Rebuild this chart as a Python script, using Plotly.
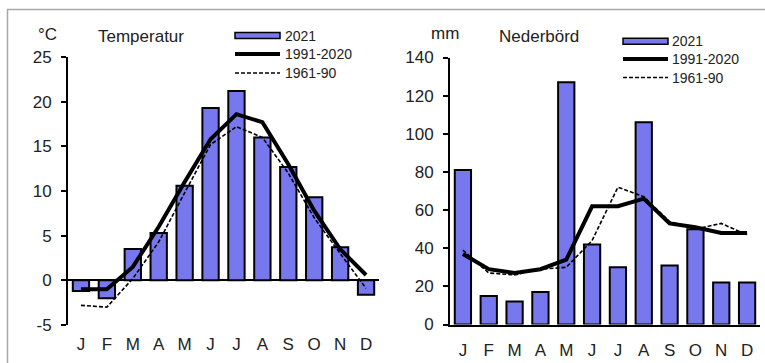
import plotly.graph_objects as go

W, H = 765, 363

months = ["J", "F", "M", "A", "M", "J", "J", "A", "S", "O", "N", "D"]
temp_2021 = [-1.2, -2.0, 3.5, 5.3, 10.6, 19.3, 21.2, 16.0, 12.7, 9.3, 3.7, -1.6]
temp_1991_2020 = [-1.0, -1.0, 1.5, 6.0, 11.0, 15.8, 18.6, 17.7, 13.0, 7.8, 3.5, 0.6]
temp_1961_90 = [-2.8, -3.0, 0.2, 4.3, 9.8, 15.2, 17.2, 16.0, 12.0, 7.0, 3.0, -0.9]

prec_2021 = [81, 15, 12, 17, 127, 42, 30, 106, 31, 50, 22, 22]
prec_1991_2020 = [37, 29, 27, 29, 34, 62, 62, 66, 53, 51, 48, 48]
prec_1961_90 = [39, 27, 26, 29, 30, 44, 72, 67, 54, 50, 53, 47]

temp_ticks = [-5, 0, 5, 10, 15, 20, 25]
temp_ticktext = ["-5", "0", "5", "10", "15", "20", "25"]
prec_ticks = [0, 20, 40, 60, 80, 100, 120, 140]
prec_ticktext = ["0", "20", "40", "60", "80", "100", "120", "140"]

xs = list(range(12))
BAR = "#7878EE"
TXT = "#222222"
FONT = "Liberation Sans, Arial, sans-serif"


def px(x):
    return x / W


def py(y):
    return 1 - y / H


fig = go.Figure()

for xa, ya, bars, l1, l2 in [
    ("x", "y", temp_2021, temp_1991_2020, temp_1961_90),
    ("x2", "y2", prec_2021, prec_1991_2020, prec_1961_90),
]:
    fig.add_trace(go.Bar(x=xs, y=bars, xaxis=xa, yaxis=ya, width=0.63,
                         marker=dict(color=BAR, line=dict(color="black", width=2)),
                         showlegend=False))
    fig.add_trace(go.Scatter(x=xs, y=l2, xaxis=xa, yaxis=ya, mode="lines",
                             line=dict(color="black", width=1.6, dash="4px,2px"),
                             showlegend=False))
    fig.add_trace(go.Scatter(x=xs, y=l1, xaxis=xa, yaxis=ya, mode="lines",
                             line=dict(color="black", width=4),
                             showlegend=False))

common_x = dict(tickmode="array", tickvals=xs, ticktext=months, range=[-0.5, 11.5],
                showgrid=False, zeroline=False, ticks="", automargin=False,
                tickfont=dict(size=17, color=TXT, family=FONT))
common_y = dict(tickmode="array", showgrid=False, ticks="outside", ticklen=5,
                tickwidth=2, tickcolor="black", showline=True, linecolor="black",
                linewidth=2, automargin=False, ticklabelstandoff=6,
                tickfont=dict(size=17, color=TXT, family=FONT))

fig.update_layout(
    width=W, height=H,
    margin=dict(l=0, r=0, t=0, b=0),
    paper_bgcolor="white", plot_bgcolor="rgba(0,0,0,0)",
    barmode="overlay",
    xaxis=dict(domain=[px(68), px(379)], anchor="y", showline=False,
               ticklabelstandoff=7, **common_x),
    yaxis=dict(domain=[py(325), py(57)], anchor="x", range=[-5, 25],
               tickvals=temp_ticks, ticktext=temp_ticktext, zeroline=True,
               zerolinecolor="black", zerolinewidth=2, **common_y),
    xaxis2=dict(domain=[px(450), px(760)], anchor="y2", showline=True,
                linecolor="black", linewidth=2, ticklabelstandoff=9, **common_x),
    yaxis2=dict(domain=[py(324.5), py(57.5)], anchor="x2", range=[0, 140],
                tickvals=prec_ticks, ticktext=prec_ticktext, zeroline=False,
                **common_y),
)

shapes = []
annotations = []

# outer frame
shapes.append(dict(type="rect", xref="paper", yref="paper",
                   x0=px(7.5), y0=py(380), x1=px(800), y1=py(9.5),
                   line=dict(color="#a8a8a8", width=1.5), layer="below"))


def txt(x, y, s, size, anchor="left"):
    annotations.append(dict(x=px(x), y=py(y), xref="paper", yref="paper", text=s,
                            showarrow=False, xanchor=anchor, yanchor="middle",
                            font=dict(size=size, color=TXT, family=FONT)))


txt(47, 35, "°C", 17, "center")
txt(96, 36, "Temperatur", 17)
txt(445, 33, "mm", 17, "center")
txt(497, 36, "Nederbörd", 17)

legend_labels = ["2021", "1991-2020", "1961-90"]
for (x0, x1, ys, tx) in [(235, 280, (35.5, 54, 73), 283), (623, 668, (41.3, 59, 77.5), 670)]:
    shapes.append(dict(type="rect", xref="paper", yref="paper",
                       x0=px(x0), x1=px(x1), y0=py(ys[0] + 3), y1=py(ys[0] - 3),
                       fillcolor=BAR, line=dict(color="black", width=1.5)))
    shapes.append(dict(type="line", xref="paper", yref="paper",
                       x0=px(x0), x1=px(x1), y0=py(ys[1]), y1=py(ys[1]),
                       line=dict(color="black", width=4)))
    shapes.append(dict(type="line", xref="paper", yref="paper",
                       x0=px(x0), x1=px(x1), y0=py(ys[2]), y1=py(ys[2]),
                       line=dict(color="black", width=1.6, dash="4px,2px")))
    for yy, lab in zip(ys, legend_labels):
        txt(tx, yy, lab, 14)

fig.update_layout(shapes=shapes, annotations=annotations)
fig.write_html("out.html", config={"displayModeBar": False})

# remove the default page margin so the figure sits at the window's top-left corner
with open("out.html", encoding="utf-8") as f:
    page = f.read()
page = page.replace("<body>", '<body style="margin:0;overflow:hidden">', 1)
with open("out.html", "w", encoding="utf-8") as f:
    f.write(page)
